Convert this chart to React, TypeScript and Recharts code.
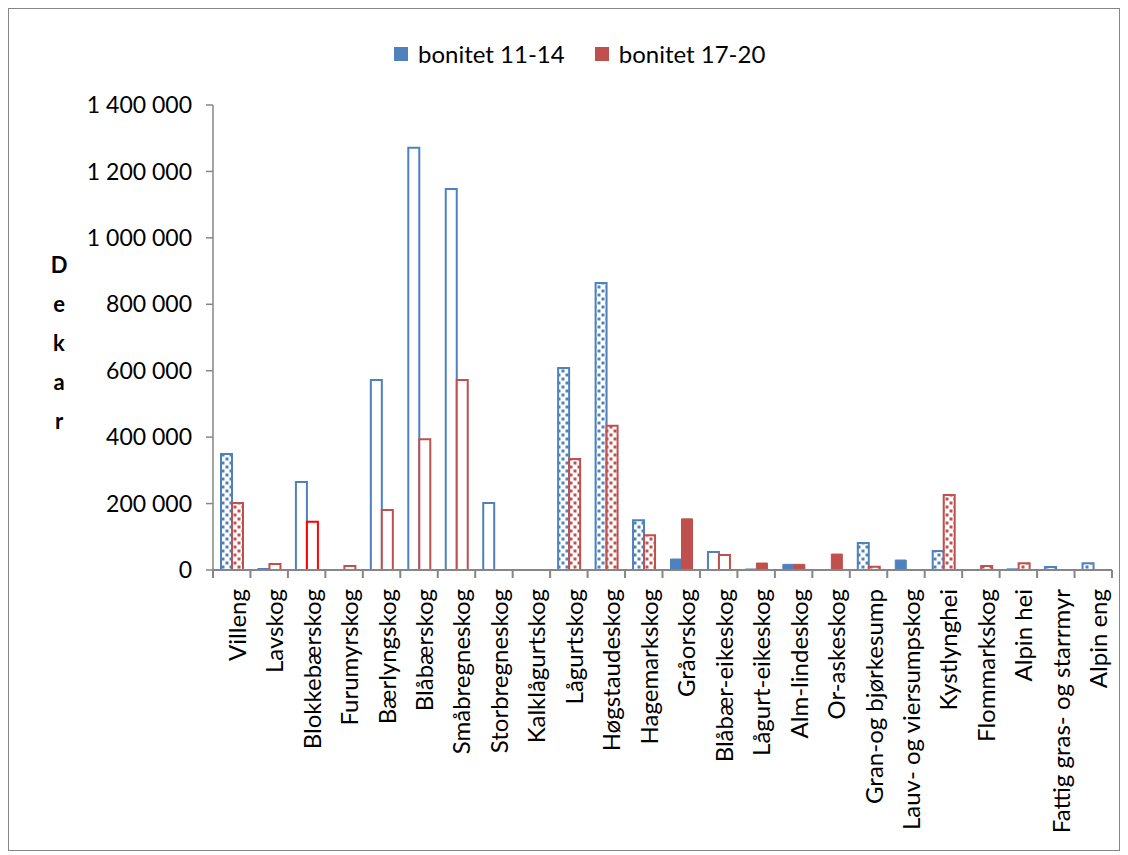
import { BarChart, Bar, XAxis, YAxis, Legend, Cell } from 'recharts';

const categories = [
  'Villeng',
  'Lavskog',
  'Blokkebærskog',
  'Furumyrskog',
  'Bærlyngskog',
  'Blåbærskog',
  'Småbregneskog',
  'Storbregneskog',
  'Kalklågurtskog',
  'Lågurtskog',
  'Høgstaudeskog',
  'Hagemarkskog',
  'Gråorskog',
  'Blåbær-eikeskog',
  'Lågurt-eikeskog',
  'Alm-lindeskog',
  'Or-askeskog',
  'Gran-og bjørkesump',
  'Lauv- og viersumpskog',
  'Kystlynghei',
  'Flommarkskog',
  'Alpin hei',
  'Fattig gras- og starrmyr',
  'Alpin eng',
];

const bonitet1114 = [
  349000, 3000, 265000, 0, 572000, 1271000, 1147000, 202000, 0, 608000, 864000, 150000,
  33000, 54000, 3000, 17000, 0, 81000, 30000, 57000, 0, 2000, 9000, 20000,
];

const bonitet1720 = [
  202000, 18000, 145000, 12000, 181000, 394000, 572000, 0, 0, 334000, 434000, 105000,
  154000, 45000, 21000, 17000, 48000, 10000, 0, 226000, 12000, 20000, 0, 0,
];

const yTicks = [0, 200000, 400000, 600000, 800000, 1000000, 1200000, 1400000];

// bar fill treatment per vegetation type
type FillKind = 'dots' | 'outline' | 'solid';
const fillKinds: FillKind[] = [
  'dots', 'outline', 'outline', 'outline', 'outline', 'outline', 'outline', 'outline',
  'outline', 'dots', 'dots', 'dots', 'solid', 'outline', 'solid', 'solid', 'solid',
  'dots', 'solid', 'dots', 'dots', 'dots', 'dots', 'dots',
];

const BLUE = '#4F81BD';
const RED = '#C0504D';
const AXIS = '#868686';
const FONT = 'Lato, "Open Sans", sans-serif';

const data = categories.map((name, i) => ({
  name,
  low: bonitet1114[i],
  high: bonitet1720[i],
}));

const fmt = (v: number) => String(v).replace(/\B(?=(\d{3})+(?!\d))/g, ' ');

function cellProps(kind: FillKind, color: string, dotsId: string, outline?: string) {
  if (kind === 'solid') return { fill: color, stroke: color, strokeWidth: 1 };
  if (kind === 'outline') return { fill: '#fff', stroke: outline ?? color, strokeWidth: 2 };
  return { fill: `url(#${dotsId})`, stroke: color, strokeWidth: 2 };
}

function CategoryTick(props: any) {
  const { x, y, payload, index, visibleTicksCount, width } = props;
  const band = width / visibleTicksCount;
  const left = x - band / 2;
  const tx = x + 14;
  const ty = y + 19;
  return (
    <g>
      <line x1={left} x2={left} y1={y} y2={y + 8} stroke={AXIS} strokeWidth={2} />
      {index === visibleTicksCount - 1 && (
        <line x1={left + band} x2={left + band} y1={y} y2={y + 8} stroke={AXIS} strokeWidth={2} />
      )}
      <text
        x={tx}
        y={ty}
        transform={`rotate(-90, ${tx}, ${ty})`}
        textAnchor="end"
        fontSize={24}
        fontFamily={FONT}
        fill="#000"
      >
        {payload.value}
      </text>
    </g>
  );
}

function DekarLabel(props: any) {
  const { viewBox } = props;
  const cx = viewBox.x + 50;
  const mid = viewBox.y + viewBox.height / 2 + 6;
  return (
    <g>
      {'Dekar'.split('').map((ch, i) => (
        <text
          key={i}
          x={cx}
          y={mid + (i - 2) * 39}
          dy="0.35em"
          textAnchor="middle"
          fontSize={22}
          fontWeight="bold"
          fontFamily={FONT}
          fill="#000"
        >
          {ch}
        </text>
      ))}
    </g>
  );
}

function LegendBox() {
  const items = [
    { label: 'bonitet 11-14', color: BLUE },
    { label: 'bonitet 17-20', color: RED },
  ];
  return (
    <div style={{ display: 'flex', alignItems: 'center', fontFamily: FONT, fontSize: 24 }}>
      {items.map((it) => (
        <div key={it.label} style={{ display: 'flex', alignItems: 'center', marginRight: 30 }}>
          <span style={{ width: 14, height: 14, background: it.color, marginRight: 10 }} />
          <span style={{ color: '#000' }}>{it.label}</span>
        </div>
      ))}
    </div>
  );
}

export default function App() {
  return (
    <div style={{ width: 1110, height: 841, border: `1px solid ${AXIS}`, background: '#fff' }}>
      <BarChart
        width={1110}
        height={841}
        data={data}
        margin={{ top: 96, right: 7, left: 0, bottom: 0 }}
        barGap={0}
        barSize={11}
      >
        <defs>
          <pattern id="dotsBlue" width={8} height={8} patternUnits="userSpaceOnUse">
            <rect width={8} height={8} fill="#fff" />
            <rect x={0.5} y={0.5} width={3} height={3} fill={BLUE} />
            <rect x={4.5} y={4.5} width={3} height={3} fill={BLUE} />
          </pattern>
          <pattern id="dotsRed" width={8} height={8} patternUnits="userSpaceOnUse">
            <rect width={8} height={8} fill="#fff" />
            <rect x={0.5} y={0.5} width={3} height={3} fill={RED} />
            <rect x={4.5} y={4.5} width={3} height={3} fill={RED} />
          </pattern>
        </defs>
        <XAxis
          dataKey="name"
          interval={0}
          height={280}
          tickSize={0}
          tickMargin={0}
          tickLine={false}
          axisLine={{ stroke: AXIS, strokeWidth: 2 }}
          tick={<CategoryTick />}
        />
        <YAxis
          width={204}
          domain={[0, 1400000]}
          ticks={yTicks}
          interval={0}
          tickFormatter={fmt}
          tickSize={7}
          tickMargin={14}
          tickLine={{ stroke: AXIS, strokeWidth: 1.5 }}
          axisLine={{ stroke: AXIS, strokeWidth: 1.5 }}
          tick={{ fontSize: 23, fontFamily: FONT, fill: '#000' }}
          label={<DekarLabel />}
        />
        <Legend
          verticalAlign="middle"
          align="center"
          wrapperStyle={{ top: 30, left: 385, width: 'auto' }}
          content={<LegendBox />}
        />
        <Bar dataKey="low" name="bonitet 11-14" fill={BLUE} isAnimationActive={false}>
          {data.map((d, i) => (
            <Cell key={d.name} {...cellProps(fillKinds[i], BLUE, 'dotsBlue')} />
          ))}
        </Bar>
        <Bar dataKey="high" name="bonitet 17-20" fill={RED} isAnimationActive={false}>
          {data.map((d, i) => (
            <Cell
              key={d.name}
              {...cellProps(fillKinds[i], RED, 'dotsRed', d.name === 'Blokkebærskog' ? '#FF0000' : undefined)}
            />
          ))}
        </Bar>
      </BarChart>
    </div>
  );
}
